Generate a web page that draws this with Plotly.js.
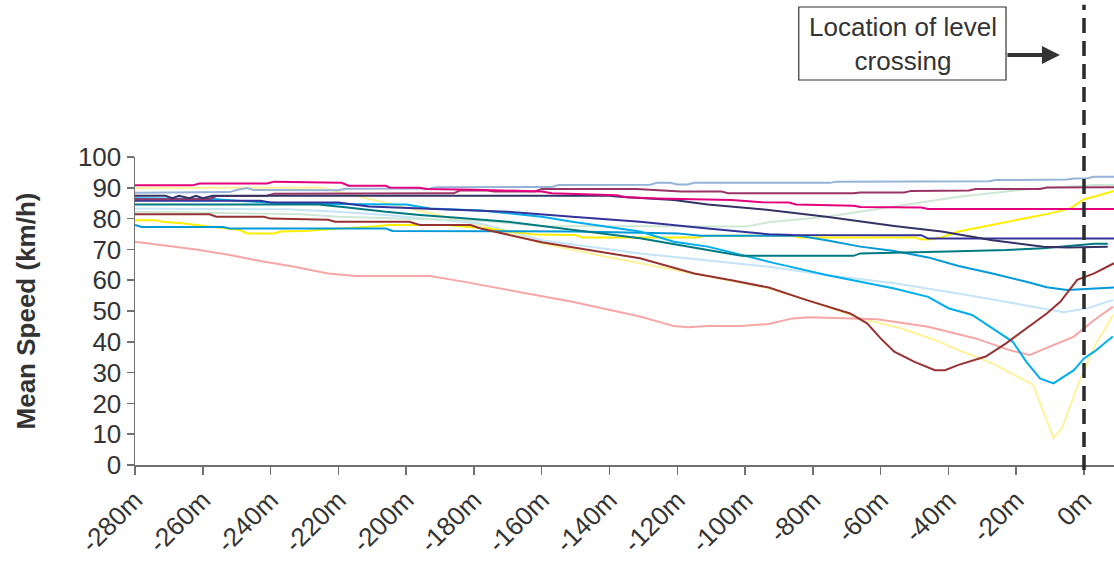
<!DOCTYPE html>
<html>
<head>
<meta charset="utf-8">
<script src="https://cdn.plot.ly/plotly-3.0.1.min.js"></script>
<style>html,body{margin:0;padding:0;background:#fff;}#chart{width:1114px;height:562px;}</style>
</head>
<body>
<div id="chart"></div>
<script>
// Distances (m) relative to the level crossing, and mean speeds (km/h) per series
const magentaX = [-280,-263,-261,-241,-239,-228,-219,-217,-206,-205,-196,-194,-180,-160,-157,-138,-135,-126,-104,-95,-87,-85,-68,-66,-48,-46,8.85];
const magentaY = [90.8,90.8,91.4,91.4,92,91.8,91.6,90.7,90.7,90.1,90,89.6,89.4,88.8,88.2,87.6,86.9,86.5,86,85.3,85.2,84.6,84.2,83.8,83.6,83.1,83.1];

const steelX = [-280,-252,-250,-247,-245,-220,-218,-193,-191,-157,-155,-128,-126,-122,-120,-117,-115,-75,-73,-28,-26,-5,-3,1,3,8.85];
const steelY = [88.4,88.6,89.3,89.9,89.3,89.2,89.7,89.8,90.2,90.3,90.9,91,91.6,91.6,91.1,91.1,91.6,91.6,92,92.1,92.5,92.7,93,93.1,93.6,93.6];

const plumX = [-280,-258,-256,-241,-239,-186,-184,-176,-174,-162,-160,-132,-119,-107,-105,-68,-66,-53,-51,-34,-32,-13,-11,8.85];
const plumY = [86.3,86.4,87.3,87.4,88.1,88.2,89.2,89.1,88.8,88.8,89.6,89.6,88.8,88.8,88.2,88.2,88.5,88.5,89,89.1,89.6,89.6,90.1,90.2];

const navyX = [-280,-271,-269,-267,-264,-262,-260,-257,-140,-137,-121,-111,-101,-93,-76,-56,-42,-27,-12,-5,7];
const navyY = [87.4,87.4,86.6,87.4,86.6,87.4,86.6,87.4,87.4,87.1,86,84.6,83.6,82.8,80.6,77.6,75.8,73,70.9,70.6,70.9];

const indigoX = [-280,-243,-240,-220,-211,-197,-184,-170,-151,-131,-111,-93,-86,-48,-46,8.85];
const indigoY = [85.8,85.8,85.2,85.2,83.9,83.3,82.9,82.2,80.6,79,76.8,74.9,74.7,74.6,73.5,73.5];

const tealX = [-280,-226,-218,-206,-196,-190,-184,-170,-151,-131,-111,-101,-68,-66,-40,-23,-12,-2,3,7];
const tealY = [84.6,84.6,83.7,82.2,81.2,80.8,80.2,79,76.3,73.6,69.8,67.9,67.9,68.7,69.3,69.8,70.4,71.2,71.8,71.8];

const cyanX = [-280,-257,-250,-234,-200,-193,-178,-160,-151,-131,-121,-111,-101,-92,-76,-56,-46,-40,-33,-27,-21,-17,-13,-9,-3,0,3,8.5];
const cyanY = [86.6,86.4,85.8,84.8,84.6,83.3,82.6,80.6,79,75.8,72.5,70.9,68.2,65.7,61.7,57.3,54.6,50.9,48.7,44.4,40,33.5,28.1,26.5,30.8,34.6,36.8,41.7];

const blueX = [-280,-278,-254,-252,-206,-204,-150,-120,-113,-84,-76,-66,-56,-46,-37,-27,-17,-11,-5,8.85];
const blueY = [77.9,77.3,77.3,76.8,76.8,76,75.8,75.2,74.4,74.4,73,70.9,69.5,67.4,64.6,62.2,59.5,57.7,56.8,57.6];

const yellowX = [-280,-274,-272,-266,-262,-258,-254,-249,-247,-239,-237,-230,-225,-218,-210,-205,-188,-175,-162,-150,-148,-114,-112,-86,-84,-50,-48,-45,-42,-37,-27,-17,-10,-4,0,3,8.85];
const yellowY = [79.5,79.5,79,78.5,77.9,77.4,76.8,76.3,75.2,75.2,75.8,76,76.4,76.8,77.4,77.9,77.9,76.6,74.8,74.7,73.9,73.9,74.4,74.4,73.9,73.9,73.2,73.3,73.9,75.8,77.9,80.1,81.7,83.3,86.3,87.1,89];

const paleYellowX = [-280,-225,-178,-160,-141,-121,-93,-82,-66,-54,-44,-37,-27,-15,-9,-6.5,-2,3,8.6];
const paleYellowY = [90,90,77.9,72,67.6,63.3,57.4,53.6,47.6,44.4,40.6,37.3,33,26,8.7,11.9,25.4,38.4,48.7];

const darkRedX = [-280,-258,-256,-242,-240,-223,-221,-199,-196,-181,-178,-160,-131,-115,-104,-93,-82,-69,-64,-60,-56,-50,-44,-41,-37,-29,-23,-17,-11,-7,-2,3,8.85];
const darkRedY = [81.4,81.4,80.6,80.6,80,79.6,79,79,77.9,77.9,76.8,72.3,67.1,62.2,60,57.6,53.6,49.2,46,41.1,36.8,33.5,30.8,30.8,32.5,35.2,39.5,44.4,49.2,53,60.1,62.2,65.5];

const lightSkyX = [-280,-235,-220,-206,-178,-160,-131,-121,-93,-76,-56,-37,-17,-6,1,8.6];
const lightSkyY = [83.3,83,82.2,81.2,78.4,73,68.7,67.6,64.4,61.7,59,55.7,51.9,49.6,50.9,53.6];

const paleGreenX = [-280,-231,-220,-190,-178,-160,-100,-93,-76,-56,-37,-17,3,8.85];
const paleGreenY = [82.2,81.4,80.6,79.8,79.3,77.6,77.4,78.8,80.6,83.9,87.1,89.5,90.9,90.9];

const pinkX = [-280,-272,-262,-252,-243,-233,-223,-215,-193,-184,-170,-151,-131,-121,-117,-111,-101,-93,-86,-81,-61,-46,-32,-22,-16,-10,-3,3,8.6];
const pinkY = [72.5,71.4,70,68.2,66.2,64.4,62.2,61.4,61.4,59.7,56.8,53,48.2,45.1,44.7,45.1,45.1,45.8,47.6,48,47.3,44.9,41.1,37.3,35.7,38.4,41.7,47.1,51.4];

const yTickVals = [0,10,20,30,40,50,60,70,80,90,100];
const xTickVals = [-280,-260,-240,-220,-200,-180,-160,-140,-120,-100,-80,-60,-40,-20,0];
const xTickText = xTickVals.map(v => v + 'm');

const series = [
  [paleYellowX, paleYellowY, '#FFF29A'],
  [lightSkyX, lightSkyY, '#C4E4F8'],
  [paleGreenX, paleGreenY, '#CDE8D5'],
  [pinkX, pinkY, '#F7A6A6'],
  [steelX, steelY, '#95B3D7'],
  [yellowX, yellowY, '#FFEE00'],
  [blueX, blueY, '#0099DA'],
  [cyanX, cyanY, '#00AEEF'],
  [tealX, tealY, '#007A80'],
  [indigoX, indigoY, '#333399'],
  [darkRedX, darkRedY, '#963232'],
  [plumX, plumY, '#993366'],
  [navyX, navyY, '#333366'],
  [magentaX, magentaY, '#E5007D']
];

const traces = series.map(s => ({
  x: s[0], y: s[1], type: 'scatter', mode: 'lines',
  line: {color: s[2], width: 2}, showlegend: false, hoverinfo: 'skip'
}));

const font = 'Liberation Sans, Arial, sans-serif';
const layout = {
  width: 1114, height: 562,
  margin: {l: 135, r: 0, t: 157, b: 97},
  paper_bgcolor: '#ffffff', plot_bgcolor: '#ffffff',
  showlegend: false,
  xaxis: {
    range: [-280, 8.85], tickvals: xTickVals, ticktext: xTickText,
    tickangle: -45, ticks: 'outside', ticklen: 8, tickwidth: 1.5, tickcolor: '#707070',
    showline: true, linecolor: '#707070', linewidth: 1.5,
    showgrid: false, zeroline: false,
    tickfont: {family: font, size: 26, color: '#333333'}
  },
  yaxis: {
    range: [0, 100], tickvals: yTickVals,
    ticks: 'outside', ticklen: 7, tickwidth: 1.5, tickcolor: '#707070',
    showline: true, linecolor: '#707070', linewidth: 1.5,
    showgrid: false, zeroline: false,
    tickfont: {family: font, size: 26, color: '#333333'},
    title: {text: '<b>Mean Speed (km/h)</b>', font: {family: font, size: 26, color: '#333333'}, standoff: 35}
  },
  shapes: [
    {type: 'line', xref: 'x', yref: 'paper', x0: 0, x1: 0, y0: -0.016, y1: 1.494,
     line: {color: '#2b2b2b', width: 3.5, dash: '15px,8px'}},
    {type: 'rect', xref: 'paper', yref: 'paper', x0: 0.678, x1: 0.8897, y0: 1.25, y1: 1.487,
     line: {color: '#333333', width: 1.2}, fillcolor: '#ffffff'}
  ],
  annotations: [
    {xref: 'paper', yref: 'paper', x: 0.784, y: 1.3685, text: 'Location of level<br>crossing',
     showarrow: false, font: {family: font, size: 26, color: '#333333'}, xanchor: 'center', yanchor: 'middle'},
    {xref: 'x', yref: 'paper', x: -7.1, y: 1.3312, text: '', showarrow: true,
     ax: -54, ay: 0, arrowhead: 2, arrowsize: 0.9, arrowwidth: 4, arrowcolor: '#333333'}
  ]
};

Plotly.newPlot('chart', traces, layout, {displayModeBar: false, staticPlot: true});
</script>
</body>
</html>
